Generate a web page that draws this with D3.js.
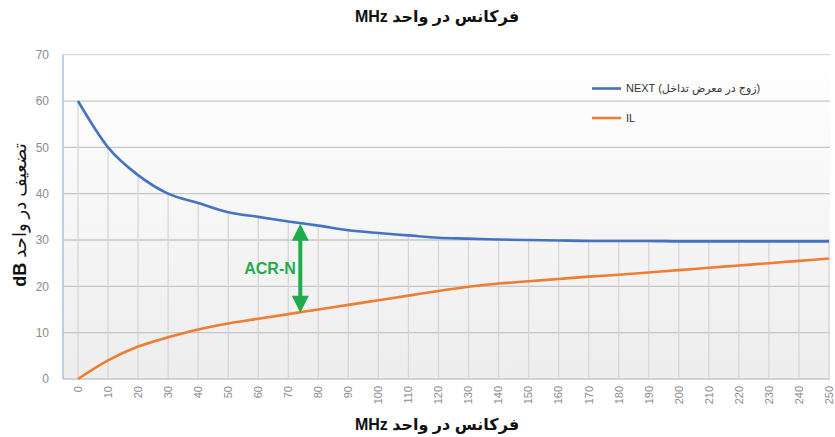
<!DOCTYPE html>
<html><head><meta charset="utf-8">
<script src="https://cdn.jsdelivr.net/npm/d3@7"></script>
<style>
body{margin:0;background:#fff;}
svg{display:block;font-family:"Liberation Sans",Arial,"DejaVu Sans",sans-serif;}
</style></head>
<body><svg id="c" width="835" height="437"></svg>
<script>
const categories = [0,10,20,30,40,50,60,70,80,90,100,110,120,130,140,150,160,170,180,190,200,210,220,230,240,250];
const nextValues = [60,50,44,40,38,36,35,34,33.1,32.1,31.5,31,30.5,30.3,30.1,30,29.9,29.8,29.8,29.8,29.7,29.7,29.7,29.7,29.7,29.7];
const ilValues = [0,4,7,9,10.7,12,13,14,15,16,17,18,19,19.9,20.6,21.1,21.6,22.1,22.5,23,23.5,24,24.5,25,25.5,26];
const yTicks = [0,10,20,30,40,50,60,70];
const seriesNames = ["NEXT (زوج در معرض تداخل)", "IL"];
const acr = {label:"ACR-N", freq:74, top:33.5, bottom:14.3};

const svg = d3.select("#c");
const L=63, R=830, T=54.7, B=379;
const x = d3.scalePoint().domain(categories).range([78,829]);
const xLin = d3.scaleLinear().domain([0,250]).range([78,829]);
const y = d3.scaleLinear().domain([0,70]).range([B,T]);

const defs = svg.append("defs");
const g = defs.append("linearGradient").attr("id","bg").attr("x1",0).attr("y1",0).attr("x2",0).attr("y2",1);
g.append("stop").attr("offset","0%").attr("stop-color","#ffffff");
g.append("stop").attr("offset","100%").attr("stop-color","#ededed");
svg.append("rect").attr("x",L).attr("y",T).attr("width",R-L).attr("height",B-T).attr("fill","url(#bg)");

// horizontal gridlines
svg.append("g").selectAll("line").data(yTicks).join("line")
  .attr("x1",L).attr("x2",R).attr("y1",d=>y(d)).attr("y2",d=>y(d))
  .attr("stroke",d=>d===70?"#d9d9d9":"#c6c6c6").attr("stroke-width",1.3);

// drop lines
svg.append("g").selectAll("line").data(categories).join("line")
  .attr("x1",d=>x(d)).attr("x2",d=>x(d))
  .attr("y1",(d,i)=>y(nextValues[i])).attr("y2",B)
  .attr("stroke","#d4d4d4").attr("stroke-width",1.2);

// left axis line
svg.append("line").attr("x1",L).attr("x2",L).attr("y1",T).attr("y2",B).attr("stroke","#a8c2e6").attr("stroke-width",1.5);

// y tick labels
svg.append("g").selectAll("text").data(yTicks).join("text")
  .attr("x",49).attr("y",d=>y(d)).attr("dy","0.35em").attr("text-anchor","end")
  .attr("font-size",12).attr("fill","#8c8c8c").text(d=>d);

// x tick labels
svg.append("g").selectAll("text").data(categories).join("text")
  .attr("transform",d=>`translate(${x(d)},386) rotate(-90)`)
  .attr("dy","0.35em").attr("text-anchor","end")
  .attr("font-size",11).attr("fill","#8c8c8c").text(d=>d);

const line = d3.line().x((d,i)=>x(categories[i])).y(d=>y(d)).curve(d3.curveMonotoneX);
svg.append("path").attr("d",line(nextValues)).attr("fill","none").attr("stroke","#4472c4").attr("stroke-width",2.6);
svg.append("path").attr("d",line(ilValues)).attr("fill","none").attr("stroke","#ed7d31").attr("stroke-width",2.6);

// ACR-N arrow
const ax = xLin(acr.freq), ay1 = y(acr.top), ay2 = y(acr.bottom);
const hw = 8.5, hh = 17, green = "#1fad4b";
svg.append("line").attr("x1",ax).attr("x2",ax).attr("y1",ay1+hh-1).attr("y2",ay2-hh+1).attr("stroke",green).attr("stroke-width",4);
svg.append("path").attr("d",`M${ax},${ay1} L${ax-hw},${ay1+hh} L${ax+hw},${ay1+hh} Z`).attr("fill",green);
svg.append("path").attr("d",`M${ax},${ay2} L${ax-hw},${ay2-hh} L${ax+hw},${ay2-hh} Z`).attr("fill",green);
svg.append("text").attr("x",270).attr("y",(ay1+ay2)/2).attr("dy","0.35em").attr("text-anchor","middle")
  .attr("font-size",16).attr("font-weight","bold").attr("fill",green).text(acr.label);

// legend
const lg = svg.append("g");
const colors = ["#4472c4","#ed7d31"];
seriesNames.forEach((n,i)=>{
  const ly = 88.5 + i*29.5;
  lg.append("line").attr("x1",592).attr("x2",621).attr("y1",ly).attr("y2",ly).attr("stroke",colors[i]).attr("stroke-width",2.6);
  lg.append("text").attr("x",626).attr("y",ly).attr("dy","0.35em").attr("font-size",11).attr("fill","#333").text(n);
});

// titles
function title(yPos){
  const t = svg.append("text").attr("x",437).attr("y",yPos).attr("text-anchor","middle")
    .attr("font-size",16).attr("font-weight","bold").attr("fill","#111");
  t.append("tspan").text("MHz ");
  t.append("tspan").text("فرکانس در واحد");
}
title(22);
title(430);

const yt = svg.append("text").attr("transform","translate(26,215) rotate(-90)").attr("text-anchor","middle")
  .attr("font-size",18).attr("fill","#111");
yt.append("tspan").attr("font-weight","bold").text("dB ");
yt.append("tspan").text("تضعیف در واحد");
</script></body></html>
